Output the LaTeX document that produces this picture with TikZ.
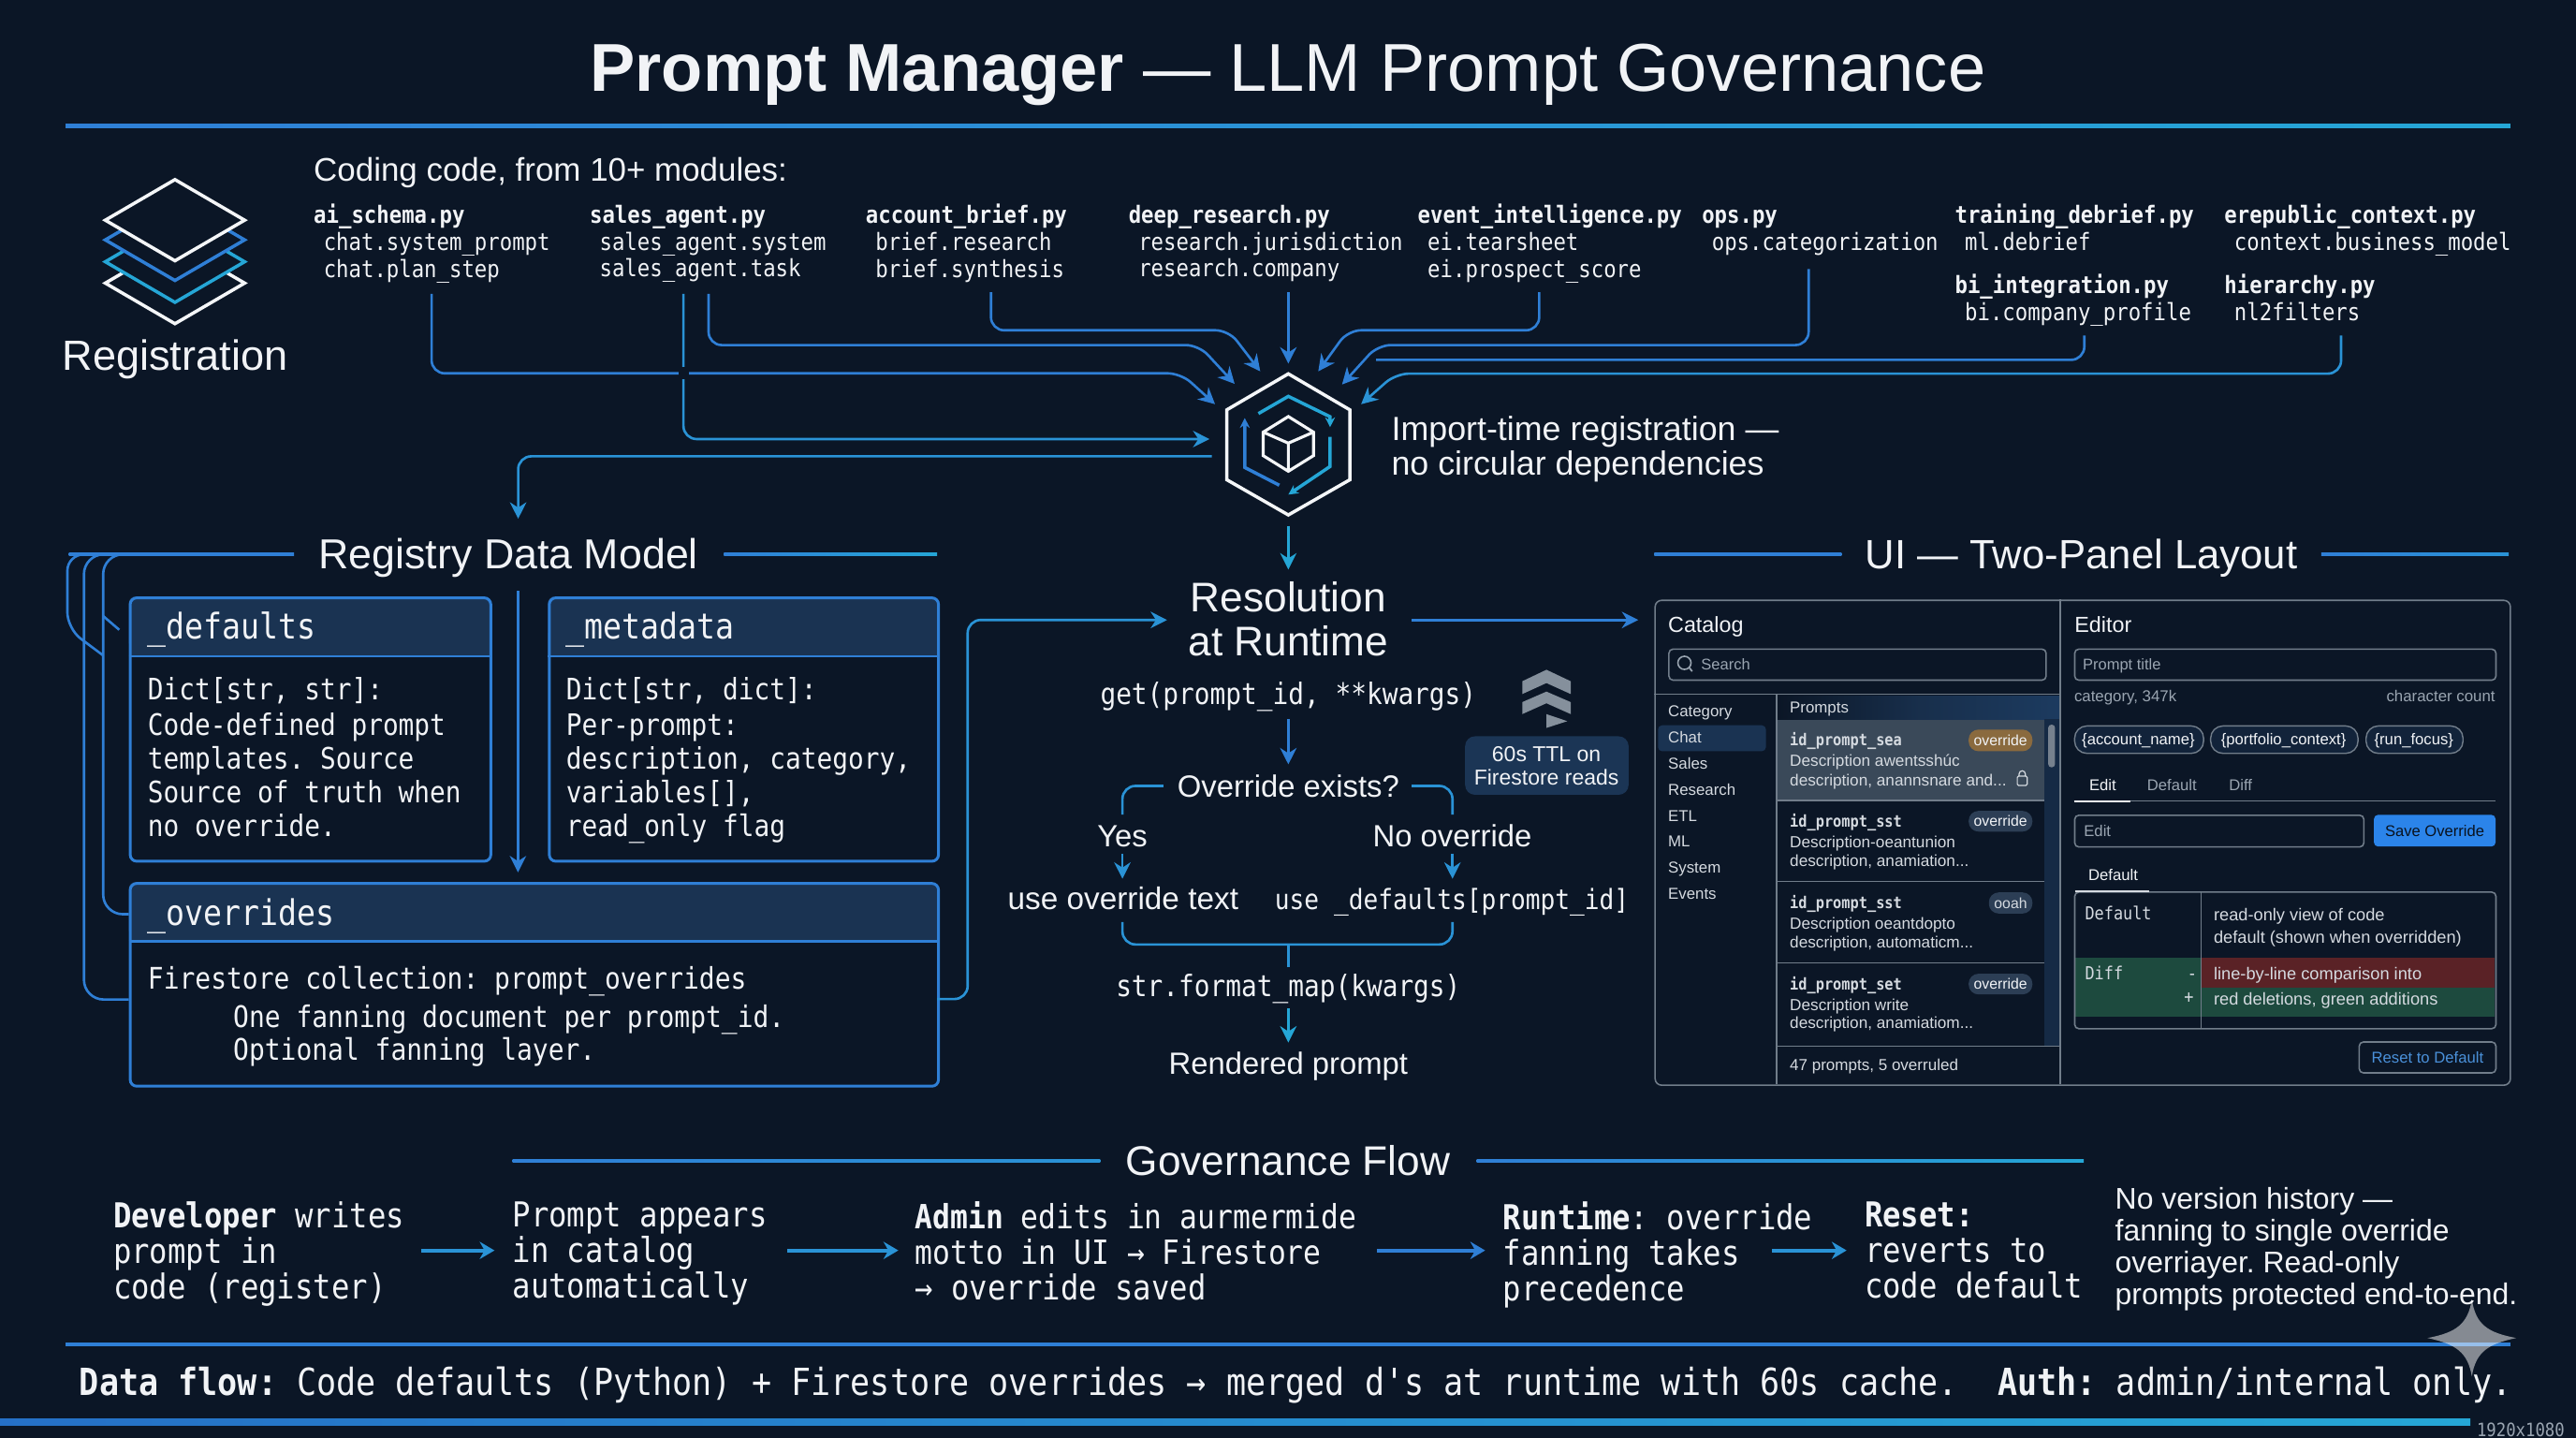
\documentclass[tikz,border=0pt]{standalone}
\usepackage{fontspec}
\usetikzlibrary{arrows.meta}
\setmainfont{Liberation Sans}
\newfontfamily\sansf{Liberation Sans}
\newfontfamily\monof[FakeStretch=0.88]{DejaVu Sans Mono}
\definecolor{bg}{HTML}{0B1626}
\definecolor{ink}{HTML}{F1F3F6}
\definecolor{lnblue}{HTML}{2F7FD6}
\definecolor{lncyan}{HTML}{25A6D6}
\definecolor{lnmid}{HTML}{2A93D6}
\definecolor{hdrfill}{HTML}{1A3352}
\definecolor{uiline}{HTML}{717D8A}
\definecolor{uigrey}{HTML}{9AA5B1}
\definecolor{uitext}{HTML}{D5DAE0}
\definecolor{rowsel}{HTML}{3A4959}
\definecolor{badge}{HTML}{2C3E55}
\definecolor{badgeo}{HTML}{8A6A3E}
\definecolor{savebtn}{HTML}{2B84EA}
\definecolor{diffgreen}{HTML}{1D4A3E}
\definecolor{diffred}{HTML}{5A2226}
\definecolor{resetblue}{HTML}{4A90D9}
\definecolor{cachefill}{HTML}{1B3555}
\definecolor{iconw}{HTML}{F4F6F8}
\AtBeginDocument{\frenchspacing}
% text node: name, family, x, first baseline y, size, skip, text
\newcommand\TX[8][]{\pgfmathsetlengthmacro{\txh}{0.7*#7}\node[tx,font={#3\fontsize{#6}{#7}\selectfont\lineskiplimit=-50pt},#1] (#2) at (#4,{#5-0.7*#7}) {\vrule height \txh\space depth 0pt width 0pt #8};}
\newcommand\HR[5][lnblue]{\shade[left color=#1,right color=#5] (#2,#4-1) rectangle (#3,#4+1);}
\tikzset{
  tx/.style={inner sep=0pt,outer sep=0pt,anchor=north west,align=left,text=ink},
  txc/.style={anchor=north,align=center},
  txr/.style={anchor=north east,align=right},
  conn/.style={line width=1.5pt,rounded corners=8pt},
  tipped/.style={-{Stealth[length=10pt,width=10pt]}},
  uibox/.style={draw=uiline,line width=0.9pt,rounded corners=2.5pt,inner sep=0pt,anchor=north west},
  uisep/.style={draw=uiline,line width=0.9pt},
  pill/.style={rounded corners=6pt,inner sep=0pt,anchor=north west},
  chip/.style={draw=uiline,line width=0.8pt,rounded corners=7.5pt,fill=hdrfill!45!bg,inner sep=0pt,anchor=north west},
  databox/.style={draw=lnblue,line width=1.7pt,rounded corners=4pt,inner sep=0pt,anchor=north west},
  stack/.style={line width=2pt,fill=bg,line join=miter},
  flowarr/.style={line width=2.4pt,-{Stealth[length=9pt,width=10.5pt]}},
}
\begin{document}
\begin{tikzpicture}[x=1pt,y=-1pt]
\useasboundingbox (0,0) rectangle (1568,875.16);
\fill[bg] (0,0) rectangle (1568,875.16);

% ---- title
\TX[txc]{title}{\sansf}{784}{55.3}{41.2}{48}{\textbf{Prompt Manager} — LLM Prompt Governance}
\HR{40}{1528}{76.5}{lncyan}

% ---- registration icon
\draw[stack,draw=iconw] (106.5,147.6) -- (148.9,172.3) -- (106.5,197) -- (64.1,172.3) -- cycle;
\draw[stack,draw=lncyan] (106.5,134.6) -- (148.9,159.3) -- (106.5,184) -- (64.1,159.3) -- cycle;
\draw[stack,draw=lnblue] (106.5,121.3) -- (148.9,146) -- (106.5,170.7) -- (64.1,146) -- cycle;
\draw[stack,draw=iconw] (106.5,109.3) -- (148.9,134) -- (106.5,158.7) -- (64.1,134) -- cycle;
\TX[txc]{regLabel}{\sansf}{106.5}{225.5}{25.7}{30}{Registration}

\TX{codingLabel}{\sansf}{191}{110.5}{19.9}{24}{Coding code, from 10+ modules:}

% ---- modules
\TX{mAi}{\monof}{191}{135.8}{14.45}{16.4}{\textbf{ai\_schema.py}\\\hspace*{6pt}chat.system\_prompt\\\hspace*{6pt}chat.plan\_step}
\TX{mSales}{\monof}{359}{135.8}{14.45}{16.4}{\textbf{sales\_agent.py}\\\hspace*{6pt}sales\_agent.system\\\hspace*{6pt}sales\_agent.task}
\TX{mBrief}{\monof}{527}{135.8}{14.45}{16.4}{\textbf{account\_brief.py}\\\hspace*{6pt}brief.research\\\hspace*{6pt}brief.synthesis}
\TX{mDeep}{\monof}{687}{135.8}{14.45}{16.4}{\textbf{deep\_research.py}\\\hspace*{6pt}research.jurisdiction\\\hspace*{6pt}research.company}
\TX{mEvent}{\monof}{863}{135.8}{14.45}{16.4}{\textbf{event\_intelligence.py}\\\hspace*{6pt}ei.tearsheet\\\hspace*{6pt}ei.prospect\_score}
\TX{mOps}{\monof}{1036}{135.8}{14.45}{16.4}{\textbf{ops.py}\\\hspace*{6pt}ops.categorization}
\TX{mTrain}{\monof}{1190}{135.8}{14.45}{16.4}{\textbf{training\_debrief.py}\\\hspace*{6pt}ml.debrief}
\TX{mErep}{\monof}{1354}{135.8}{14.45}{16.4}{\textbf{erepublic\_context.py}\\\hspace*{6pt}context.business\_model}
\TX{mBi}{\monof}{1190}{178.3}{14.45}{16.4}{\textbf{bi\_integration.py}\\\hspace*{6pt}bi.company\_profile}
\TX{mHier}{\monof}{1354}{178.3}{14.45}{16.4}{\textbf{hierarchy.py}\\\hspace*{6pt}nl2filters}

% ---- hub hexagon
\node[inner sep=0pt,minimum width=74.8pt,minimum height=85.9pt] (hub) at (784.2,270.45) {};
\draw[draw=iconw,line width=2pt,line join=miter] (784.2,227.5) -- (821.6,249.4) -- (821.6,292) -- (784.2,313.4) -- (746.8,292) -- (746.8,249.4) -- cycle;
\draw[lncyan,line width=2pt,-{Stealth[length=6pt,width=6pt]}] (766,251.7) -- (784.2,241.2) -- (809.6,253.6) -- (809.6,260);
\draw[lnblue,line width=2pt,-{Stealth[length=6pt,width=6pt]}] (778.7,295.3) -- (757.7,284.5) -- (757.7,254.4);
\draw[lncyan,line width=2pt,-{Stealth[length=6pt,width=6pt]}] (809.6,265.9) -- (809.6,283.9) -- (784.2,301);
\draw[iconw,line width=1.8pt,line join=miter] (784.2,253.5) -- (799.5,263) -- (799.5,277.3) -- (784.2,286.8) -- (768.9,277.3) -- (768.9,263) -- cycle
  (768.9,263) -- (784.2,269.7) -- (799.5,263) (784.2,269.7) -- (784.2,286.8);
\TX{hubLabel}{\sansf}{847}{267.8}{20.4}{21}{Import-time registration —\\no circular dependencies}

% ---- connector anchors
\coordinate (sAi) at (262.7,178.9);
\coordinate (sSalesA) at (416,178.9);
\coordinate (sSalesB) at (431.3,178.9);
\coordinate (sBrief) at (603.2,177.8);
\coordinate (sDeep) at (784.2,177.8);
\coordinate (sEvent) at (936.9,177.8);
\coordinate (sOps) at (1100.9,163.7);
\coordinate (sBi) at (1268.7,204.2);
\coordinate (sHier) at (1425,204.2);
\coordinate (tAi) at (739.6,246);
\coordinate (tSalesA) at (736.2,267.2);
\coordinate (tSalesB) at (751.5,233.6);
\coordinate (tBrief) at (767.1,226);
\coordinate (tDeep) at (784.2,221.3);
\coordinate (tEvent) at (802.4,226);
\coordinate (tOps) at (816.9,234);
\coordinate (eBi) at (837.6,219);
\coordinate (tHier) at (828.5,246);
\coordinate (sReg) at (737.6,277.7);
\coordinate (tReg) at (315.4,315.7);
\coordinate (sDown) at (784.2,320);
\coordinate (tDown) at (784.2,346.6);

\draw[conn,lnblue,tipped] (sAi) -- (262.7,227.2) -- (718.8,227.2) -- (tAi);
\draw[conn,lnmid,tipped] (sSalesA) -- (416,267.2) -- (tSalesA);
\fill[bg] (412.9,223.5) rectangle (419.5,230.5);
\draw[conn,lnblue,tipped] (sSalesB) -- (431.3,210) -- (729.7,210) -- (tSalesB);
\draw[conn,lnblue,tipped] (sBrief) -- (603.2,201) -- (747.9,201) -- (tBrief);
\draw[conn,lnblue,tipped] (sDeep) -- (tDeep);
\draw[conn,lnblue,tipped] (sEvent) -- (936.9,201) -- (820.5,201) -- (tEvent);
\draw[conn,lnblue,tipped] (sOps) -- (1100.9,210) -- (838.7,210) -- (tOps);
\draw[conn,lnblue] (sBi) -- (1268.7,219) -- (eBi);
\draw[conn,lnmid,tipped] (sHier) -- (1425,227.4) -- (849.6,227.4) -- (tHier);
\draw[conn,lnmid,tipped] (sReg) -- (315.4,277.7) -- (tReg);
\draw[conn,lncyan,tipped] (sDown) -- (tDown);

% ---- registry section
\TX[txc]{regTitle}{\sansf}{309.5}{346}{25.5}{30}{Registry Data Model}
\HR{42}{179}{337.4}{lnblue}
\HR{440.7}{570.4}{337.4}{lncyan}

% data boxes
\fill[hdrfill,rounded corners=4pt] (78.4,363) rectangle (297.9,395);
\fill[hdrfill] (78.4,385) rectangle (297.9,399.4);
\node[databox,minimum width=219.5pt,minimum height=160.3pt] (bDefaults) at (78.4,363) {};
\draw[lnblue,line width=1.7pt] (78.4,399.4) -- (297.9,399.4);
\fill[hdrfill,rounded corners=4pt] (333.5,363) rectangle (570.4,395);
\fill[hdrfill] (333.5,385) rectangle (570.4,399.4);
\node[databox,minimum width=236.9pt,minimum height=160.3pt] (bMeta) at (333.5,363) {};
\draw[lnblue,line width=1.7pt] (333.5,399.4) -- (570.4,399.4);
\fill[hdrfill,rounded corners=4pt] (78.4,536.8) rectangle (570.4,570);
\fill[hdrfill] (78.4,560) rectangle (570.4,573);
\node[databox,minimum width=492pt,minimum height=123.4pt] (bOver) at (78.4,536.8) {};
\draw[lnblue,line width=1.7pt] (78.4,573) -- (570.4,573);

\TX{hDefaults}{\monof}{90}{389}{21.5}{24}{\_defaults}
\TX{tDefaults}{\monof}{90}{426}{18}{20.4}{Dict[str, str]:\\[1.2pt]Code-defined prompt\\templates. Source\\Source of truth when\\no override.}
\TX{hMeta}{\monof}{344.6}{389}{21.5}{24}{\_metadata}
\TX{tMeta}{\monof}{344.6}{426}{18}{20.4}{Dict[str, dict]:\\[1.2pt]Per-prompt:\\description, category,\\variables[],\\read\_only flag}
\TX{hOver}{\monof}{90}{563.1}{21.5}{24}{\_overrides}
\TX{tOverA}{\monof}{90}{601.7}{18.1}{21}{Firestore collection: prompt\_overrides}
\TX{tOverB}{\monof}{142}{625.3}{18.1}{20.2}{One fanning document per prompt\_id.\\Optional fanning layer.}

% registry connectors
\coordinate (cTopA) at (60,337.4);
\coordinate (cTopB) at (70,337.4);
\coordinate (cTopC) at (84,337.4);
\coordinate (cEndA) at (62.8,398.9);
\coordinate (cEndC) at (72.6,383.3);
\coordinate (cOverA) at (78.4,608.3);
\coordinate (cOverC) at (78.4,556.4);
\draw[lnblue,line width=1.5pt,rounded corners=10pt] (cTopA) -- (41,337.4) -- (41,382.6) -- (cEndA);
\draw[lnblue,line width=1.5pt,rounded corners=12pt] (cTopB) -- (51.1,337.4) -- (51.1,608.3) -- (cOverA);
\draw[lnblue,line width=1.5pt,rounded corners=12pt] (cTopC) -- (62.8,337.4) -- (62.8,556.4) -- (cOverC);
\draw[lnblue,line width=1.5pt] (62.8,374.9) -- (cEndC);
\coordinate (sMidTop) at (315.3,359.7);
\coordinate (tMidBot) at (315.3,530.9);
\draw[conn,lnblue,tipped] (sMidTop) -- (tMidBot);
\coordinate (sOverR) at (570.4,608);
\coordinate (tRes) at (710.4,377.3);
\draw[conn,lnmid,tipped] (sOverR) -- (589,608) -- (589,377.3) -- (tRes);
\TX[txc]{resTitle}{\sansf}{784.2}{372.3}{25.2}{27}{Resolution\\at Runtime}
\coordinate (sResR) at (859.3,377.3);
\coordinate (tPanel) at (997.2,377.3);
\draw[conn,lnblue,tipped] (sResR) -- (tPanel);

% ---- resolution flow
\TX[txc]{rGet}{\monof}{784.2}{428.9}{18}{21}{get(prompt\_id, **kwargs)}
\coordinate (aGetS) at (784.2,437.8);
\coordinate (aGetT) at (784.2,465.2);
\draw[conn,lnblue,tipped] (aGetS) -- (aGetT);
\TX[txc]{rExists}{\sansf}{784.2}{485.2}{18.7}{22}{Override exists?}
\coordinate (brLa) at (708.2,478.3);
\coordinate (brLb) at (683.2,495.7);
\coordinate (brRa) at (859.3,478.3);
\coordinate (brRb) at (884.1,495.7);
\draw[conn,lnmid] (brLa) -| (brLb);
\draw[conn,lnmid] (brRa) -| (brRb);
\TX[txc]{rYes}{\sansf}{683.2}{515.2}{18.7}{22}{Yes}
\TX[txc]{rNo}{\sansf}{884}{515.2}{18.7}{22}{No override}
\coordinate (yS) at (683.2,519.4);
\coordinate (yT) at (683.2,534.8);
\coordinate (nS) at (884.1,519.4);
\coordinate (nT) at (884.1,534.8);
\draw[conn,lnmid,tipped] (yS) -- (yT);
\draw[conn,lnmid,tipped] (nS) -- (nT);
\TX{rUseO}{\sansf}{613.4}{553.3}{19}{22}{use override text}
\TX{rUseD}{\monof}{776}{553.3}{16.95}{22}{use \_defaults[prompt\_id]}
\coordinate (mrL) at (683.2,561.1);
\coordinate (mrR) at (884.1,561.1);
\coordinate (mrT) at (784.2,574.8);
\coordinate (mrB) at (784.2,588.5);
\draw[conn,lnmid] (mrL) |- (mrR |- mrT) -- (mrR);
\draw[conn,lnmid] (mrT) -- (mrB);
\TX[txc]{rFmt}{\monof}{784.2}{606.4}{18}{21}{str.format\_map(kwargs)}
\coordinate (fS) at (784.2,613.8);
\coordinate (fT) at (784.2,634.5);
\draw[conn,lncyan,tipped] (fS) -- (fT);
\TX[txc]{rRendered}{\sansf}{784.2}{653.9}{18.7}{22}{Rendered prompt}

% cache badge & icon
\fill[uigrey!85!bg,line join=miter] (941.3,407.6) -- (956.1,414.6) -- (956.1,422.4) -- (941.3,415.7) -- (926.6,422.4) -- (926.6,414.6) -- cycle;
\fill[uigrey!85!bg] (941.3,420.9) -- (956.1,427.3) -- (956.1,434.6) -- (941.3,428) -- (926.6,434.6) -- (926.6,427.3) -- cycle;
\fill[uigrey!85!bg] (941.3,434.6) -- (954,438.9) -- (941.3,443) -- cycle;
\node[fill=cachefill,rounded corners=6pt,minimum width=99.5pt,minimum height=35.6pt,inner sep=0pt,anchor=north west] (cacheBox) at (891.6,447.9) {};
\TX[txc]{cacheLabel}{\sansf}{941.3}{463.7}{13.1}{14.1}{60s TTL on\\Firestore reads}

% ---- UI section
\TX[txc]{uiTitle}{\sansf}{1267}{346}{24.9}{30}{UI — Two-Panel Layout}
\HR{1007}{1121}{337.4}{lnblue}
\HR{1413}{1527}{337.4}{lnmid}

% panel background parts
\shade[left color=bg,right color=hdrfill!90!lnblue,middle color=hdrfill!85!bg] (1082,423.4) rectangle (1253.5,437.7);
\fill[hdrfill!70!bg] (1244.4,437.7) rectangle (1253.5,636.7);
\fill[rowsel] (1082,438.3) rectangle (1244.4,487.2);
\node[draw=none,fill=hdrfill,rounded corners=2.5pt,minimum width=65.7pt,minimum height=15.8pt,inner sep=0pt,anchor=north west] (catSel) at (1009,441.2) {};
\node[fill=uigrey!75!bg,rounded corners=2pt,minimum width=4.2pt,minimum height=26pt,inner sep=0pt,anchor=north west] (scroll) at (1246.5,440.8) {};
\node[uibox,minimum width=520.6pt,minimum height=295.1pt,rounded corners=4pt] (panel) at (1007,364.9) {};
\draw[uisep] (1254,364.9) -- (1254,660);
\draw[uisep] (1007,422.5) -- (1254,422.5);
\draw[uisep] (1081.5,422.5) -- (1081.5,660);
\draw[uisep] (1082,487.2) -- (1244.4,487.2);
\draw[uisep] (1082,536.4) -- (1244.4,536.4);
\draw[uisep] (1082,585.9) -- (1244.4,585.9);
\draw[uisep] (1082,636.7) -- (1254,636.7);

\TX{uiCatalog}{\sansf}{1015.4}{384.8}{13.3}{16}{Catalog}
\node[uibox,minimum width=229.6pt,minimum height=18.9pt] (searchBox) at (1015.4,394.6) {};
\node[draw=uigrey,line width=0.9pt,circle,minimum size=8pt,inner sep=0pt] (searchIcon) at (1025.3,403.4) {};
\coordinate (searchEnd) at (1030,408.6);
\draw[uigrey,line width=1pt] (searchIcon.south east) -- (searchEnd);
\TX[text=uigrey]{searchLbl}{\sansf}{1035.5}{407.8}{9.4}{11}{Search}
\TX[text=uitext]{catList}{\sansf}{1015.4}{436.1}{9.6}{15.9}{Category\\Chat\\Sales\\Research\\ETL\\ML\\System\\Events}
\TX[text=uitext]{promptsLbl}{\sansf}{1089.5}{433.6}{9.6}{11}{Prompts}

\TX[text=uitext]{rowAname}{\monof}{1089.5}{453.6}{9.9}{11}{\textbf{id\_prompt\_sea}}
\TX[text=uitext]{rowAdesc}{\sansf}{1089.5}{466.4}{9.8}{11.7}{Description awentsshúc\\description, anannsnare and...}
\TX[text=uitext]{rowBname}{\monof}{1089.5}{503}{9.9}{11}{\textbf{id\_prompt\_sst}}
\TX[text=uitext]{rowBdesc}{\sansf}{1089.5}{516}{9.8}{11.5}{Description-oeantunion\\description, anamiation...}
\TX[text=uitext]{rowCname}{\monof}{1089.5}{552.7}{9.9}{11}{\textbf{id\_prompt\_sst}}
\TX[text=uitext]{rowCdesc}{\sansf}{1089.5}{565.3}{9.8}{11.5}{Description oeantdopto\\description, automaticm...}
\TX[text=uitext]{rowDname}{\monof}{1089.5}{601.9}{9.9}{11}{\textbf{id\_prompt\_set}}
\TX[text=uitext]{rowDdesc}{\sansf}{1089.5}{614.8}{9.8}{11.3}{Description write\\description, anamiatiom...}

\node[pill,fill=badgeo,minimum width=38.8pt,minimum height=13.2pt,text=ink,font={\sansf\fontsize{9}{10}\selectfont}] (badA) at (1198.1,443.8) {override};
\node[pill,fill=badge,minimum width=38.8pt,minimum height=12.6pt,text=ink,font={\sansf\fontsize{9}{10}\selectfont}] (badB) at (1198.1,493.3) {override};
\node[pill,fill=badge,minimum width=26.5pt,minimum height=12.9pt,text=uitext,font={\sansf\fontsize{9}{10}\selectfont}] (badC) at (1210.4,542.9) {ooah};
\node[pill,fill=badge,minimum width=38.8pt,minimum height=12.6pt,text=ink,font={\sansf\fontsize{9}{10}\selectfont}] (badD) at (1198.1,592.4) {override};
% lock
\draw[uitext,line width=0.7pt,rounded corners=0.8pt] (1227.9,472.3) rectangle (1233.9,478);
\draw[uitext,line width=0.7pt] (1229,472.3) -- (1229,471) arc[start angle=180,end angle=0,radius=1.9pt] -- (1232.8,472.3);
\TX[text=uitext]{footCount}{\sansf}{1089.5}{651.4}{9.7}{11}{47 prompts, 5 overruled}

% editor
\TX{uiEditor}{\sansf}{1262.8}{384.8}{13.3}{16}{Editor}
\node[uibox,minimum width=256.4pt,minimum height=18.9pt] (titleBox) at (1262.4,394.6) {};
\TX[text=uigrey]{titleLbl}{\sansf}{1267.8}{407.8}{9.4}{11}{Prompt title}
\TX[text=uigrey]{catMeta}{\sansf}{1262.6}{427.1}{9.6}{11}{category, 347k}
\TX[txr,text=uigrey]{charMeta}{\sansf}{1518.8}{427.1}{9.6}{11}{character count}
\node[chip,minimum width=78.5pt,minimum height=16.7pt] (chipA) at (1262.4,441.4) {};
\node[chip,minimum width=89.7pt,minimum height=16.7pt] (chipB) at (1345.2,441.4) {};
\node[chip,minimum width=59pt,minimum height=16.7pt] (chipC) at (1439.8,441.4) {};
\TX[txc]{chipAt}{\sansf}{1301.6}{453.2}{9.5}{11}{\{account\_name\}}
\TX[txc]{chipBt}{\sansf}{1390}{453.2}{9.5}{11}{\{portfolio\_context\}}
\TX[txc]{chipCt}{\sansf}{1469.3}{453.2}{9.5}{11}{\{run\_focus\}}
\TX[txc]{tabEdit}{\sansf}{1279.9}{481}{9.5}{11}{Edit}
\TX[txc,text=uigrey]{tabDef}{\sansf}{1322}{481}{9.5}{11}{Default}
\TX[txc,text=uigrey]{tabDiff}{\sansf}{1363.8}{481}{9.5}{11}{Diff}
\draw[uisep] (1262.4,487.5) -- (1518.8,487.5);
\draw[ink,line width=1.2pt] (1262.4,487.5) -- (1297,487.5);
\node[uibox,minimum width=176pt,minimum height=19.3pt] (editBox) at (1262.4,495.7) {};
\TX[text=uigrey]{editLbl}{\sansf}{1268.5}{509}{9.5}{11}{Edit}
\node[fill=savebtn,rounded corners=2.5pt,minimum width=74pt,minimum height=19.3pt,inner sep=0pt,anchor=north west,text=bg!80!black,font={\sansf\fontsize{9.45}{11}\selectfont}] (saveBtn) at (1444.8,495.7) {Save Override};
\TX{defLbl}{\sansf}{1271.2}{536}{9.5}{11}{Default}
% table
\fill[diffgreen] (1262.9,582.8) rectangle (1339.7,618.9);
\fill[diffred] (1339.7,582.8) rectangle (1518.4,601.1);
\fill[diffgreen] (1339.7,601.1) rectangle (1518.4,618.9);
\node[uibox,minimum width=256.4pt,minimum height=83.1pt] (table) at (1262.4,542.5) {};
\draw[uisep] (1339.7,542.5) -- (1339.7,625.6);
\draw[uitext,line width=1pt] (1263,542.5) -- (1307.9,542.5);
\TX[text=uitext]{cellDef}{\monof}{1269.2}{559.8}{10.9}{12}{Default}
\TX[text=uitext]{cellDefT}{\sansf}{1347.5}{560.6}{10.4}{13.5}{read-only view of code\\default (shown when overridden)}
\TX[text=uitext]{cellDiff}{\monof}{1269.2}{596.5}{10.9}{12}{Diff}
\TX[text=uitext]{cellMinus}{\monof}{1331.5}{596.5}{10.9}{12}{-}
\TX[text=uitext]{cellPlus}{\monof}{1329.5}{610.7}{10.9}{12}{+}
\TX[text=uitext]{cellDiffA}{\sansf}{1347.5}{596.5}{10.4}{12}{line-by-line comparison into}
\TX[text=uitext]{cellDiffB}{\sansf}{1347.5}{611.4}{10.4}{12}{red deletions, green additions}
\node[uibox,minimum width=83.2pt,minimum height=18.8pt,text=resetblue,font={\sansf\fontsize{9.5}{11}\selectfont}] (resetBtn) at (1435.6,633.7) {Reset to Default};

% ---- governance
\TX[txc]{govTitle}{\sansf}{784}{715.5}{25.2}{30}{Governance Flow}
\HR{312}{669.7}{706.6}{lnmid}
\HR{898.9}{1268.4}{706.6}{lncyan}
\TX{gA}{\monof}{69}{746.4}{20.9}{21.7}{\textbf{Developer} writes\\prompt in\\code (register)}
\TX{gB}{\monof}{312}{746.4}{20.9}{21.7}{Prompt appears\\in catalog\\automatically}
\TX{gC}{\monof}{557}{746.4}{20.3}{21.7}{\textbf{Admin} edits in aurmermide\\motto in UI → Firestore\\{\fontsize{20.9}{21.7}\selectfont → override saved}}
\TX{gD}{\monof}{915}{746.4}{20.9}{21.7}{\textbf{Runtime}: override\\fanning takes\\precedence}
\TX{gE}{\monof}{1135}{746.4}{20.9}{21.7}{\textbf{Reset:}\\reverts to\\code default}
\TX{gNote}{\sansf}{1287.5}{736}{18.2}{19.4}{No version history —\\fanning to single override\\overriayer. Read-only\\prompts protected end-to-end.}
\coordinate (fa1s) at (256.2,761);
\coordinate (fa1t) at (301,761);
\coordinate (fa2s) at (479.2,761);
\coordinate (fa2t) at (546.8,761);
\coordinate (fa3s) at (838.2,761);
\coordinate (fa3t) at (904,761);
\coordinate (fa4s) at (1078.6,761);
\coordinate (fa4t) at (1124,761);
\draw[flowarr,lnmid] (fa1s) -- (fa1t);
\draw[flowarr,lnmid] (fa2s) -- (fa2t);
\draw[flowarr,lnblue] (fa3s) -- (fa3t);
\draw[flowarr,lnmid] (fa4s) -- (fa4t);

% ---- footer
\HR{40}{1528}{818.2}{lnblue}
\TX{dataFlow}{\monof}{48.4}{849}{22.72}{26}{\textbf{Data flow:} Code defaults (Python) + Firestore overrides → merged d's at runtime with 60s cache.\ \ \textbf{Auth:} admin/internal only.}
\shade[left color=savebtn!85!black,right color=lncyan] (0,863.7) rectangle (1503.7,867.7);
\TX[text=uigrey]{dims}{\monof}{1507.6}{874.5}{11.2}{12}{1920x1080}
% watermark star
\fill[white,opacity=0.5] (1504.6,791) .. controls (1507,806) and (1514,811) .. (1531.6,814.3) .. controls (1514,818) and (1507,823) .. (1504.6,837.6) .. controls (1502,823) and (1495,818) .. (1477.6,814.3) .. controls (1495,811) and (1502,806) .. (1504.6,791) -- cycle;
\end{tikzpicture}
\end{document}
